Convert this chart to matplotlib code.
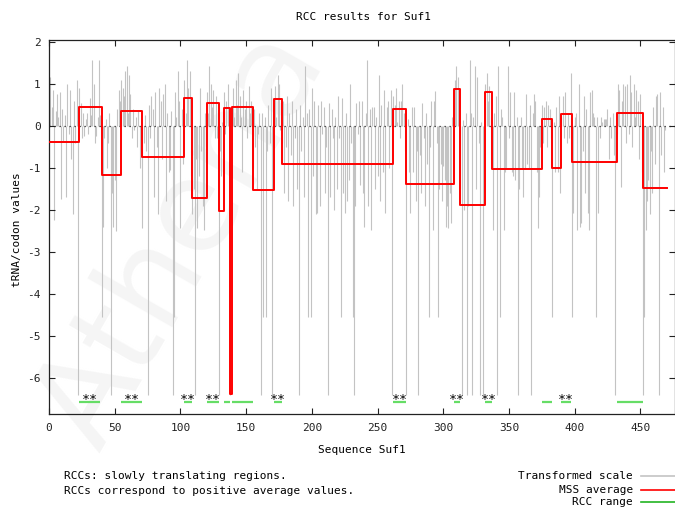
import matplotlib
matplotlib.use("Agg")
import matplotlib.pyplot as plt
from matplotlib.lines import Line2D
import numpy as np

plt.rcParams['font.family'] = ['DejaVu Sans Mono']

# Transformed tRNA/codon scale, one value per codon (codons 1..469)
codon_values = [
    # 1-22
    1.15, 0.45, 0.85, -2.25, 0.35, 0.75, 0.2, 0.8, -1.75, 0.4, -0.35, 0.25, -1.7, 1.0, -0.2,
    0.85, -0.8, -2.1, 0.6, -0.4, 1.1, -6.39,
    # 23-39
    0.9, 0.55, -0.3, 0.3, -0.25, 0.15, 0.3, -0.2, 0.65, 0.25, 1.57, 1.0, -0.4, -0.25, 0.2, 1.57, 0.25,
    # 40-54
    -4.54, -2.4, -0.3, 0.15, -1.0, -0.4, 0.3, -6.39, -1.6, -2.4, -1.3, -2.5, 0.4, 0.85, 0.6,
    # 55-70
    1.1, 0.9, 0.7, 1.3, 1.41, 0.3, 1.2, 0.75, -0.3, 0.4, -0.1, 0.2, -0.5, 0.35, -1.0, -0.6,
    # 71-102
    -2.44, -0.4, 0.25, -0.6, -6.39, 0.5, -0.3, 0.7, 0.4, -1.7, 0.8, -0.5, -2.1, 0.9, 0.6, -0.8,
    0.75, 1.0, -1.8, 0.3, -1.1, -1.05, 0.35, -6.39, -4.54, 0.8, 0.2, 1.3, 0.6, -2.44, 0.4, -0.9,
    # 103-108
    1.1, 0.3, 1.57, 0.9, 1.3, -1.2,
    # 109-119
    -2.1, -1.5, -6.39, -0.8, -2.44, -1.2, 0.9, -0.6, -1.9, -2.48, 0.3,
    # 120-128
    0.8, 0.3, 1.41, 1.0, 0.45, 0.85, -0.3, 0.7, -0.3,
    # 129-132
    -6.39, -0.6, -1.2, 0.1,
    # 133-137
    0.8, -0.2, 0.6, 1.0, -0.1,
    # 138
    -6.39,
    # 139-154
    0.3, 0.9, 0.2, 1.1, 0.5, 1.25, 0.7, 0.2, -1.1, 0.85, 0.4, 0.6, -0.3, 0.95, 0.3, 0.6,
    # 155-170
    -1.0, 0.4, -0.5, -1.5, -0.2, 0.3, -6.39, 0.3, -4.54, 0.2, -4.54, -0.6, 0.5, -0.4, 0.9, -6.39,
    # 171-176
    0.5, 0.95, 0.2, 1.2, 1.0, -0.1,
    # 177-261
    -0.4, 0.6, -1.6, -0.5, 0.7, -1.8, 0.3, -0.7, 0.6, -1.9, -0.3, 0.4, -1.5, -6.39, 0.5, -0.6,
    0.2, -1.7, 1.41, 0.3, -4.54, 0.4, -4.54, 0.9, -1.2, 0.6, -2.1, -2.08, 0.5, -1.9, 0.6, -0.2,
    0.45, -1.6, -0.5, -6.39, 0.55, -1.7, 0.4, -0.3, -2.0, 0.2, -1.5, 0.7, -0.3, -4.54, 0.65,
    -1.6, -2.08, 0.3, -1.8, -1.3, 1.0, -0.4, -4.54, -6.39, -1.9, 0.55, -0.2, 0.6, -1.4, 0.6,
    -1.6, -2.4, 0.3, 1.57, -1.9, 0.4, -2.48, 0.45, 0.45, -1.5, 0.2, -1.2, 1.21, -1.8, 0.5,
    -1.1, 0.85, -2.08, 0.45, 0.6, -1.0, 0.85, -6.39,
    # 262-271
    0.7, 0.5, 0.9, 0.1, 0.6, -0.3, 0.6, 1.0, 0.3, -0.6,
    # 272-307
    -6.39, 0.15, -1.1, -2.08, 0.45, -1.1, 0.45, -1.8, -0.6, -6.39, -0.7, -1.6, 0.55, -0.3,
    -1.9, 0.3, -0.9, -4.54, -0.5, 0.6, -2.48, 0.6, 0.82, -0.4, -4.54, -1.5, -0.9, -1.8, -0.95,
    -1.3, -2.4, -1.9, -2.44, -1.6, -2.3, 0.2,
    # 308-312
    0.5, 1.1, 1.41, 1.15, 0.2,
    # 313-331
    -1.5, -6.39, 0.14, -2.0, 0.3, -6.39, -1.9, 1.57, 0.3, -6.39, 0.2, 1.41, -1.5, 1.15, -0.4,
    -6.39, 0.1, -6.39, -1.6,
    # 332-336
    1.0, 1.25, 0.6, 0.95, 0.2,
    # 337-374
    -0.9, -2.48, 0.3, 0.7, -6.39, 1.41, -4.54, 0.4, 0.2, -2.48, -1.1, -1.0, 1.41, -0.3, 0.8,
    -1.1, -1.2, 0.8, -1.3, 0.2, -6.39, -1.5, 0.2, -1.0, -1.7, -1.0, 0.75, -0.9, -1.0, 0.5,
    -6.39, 0.3, 0.75, 0.6, -1.1, -2.44, -1.7, -0.5,
    # 375-382
    0.5, -0.4, 0.45, 0.6, -0.5, 0.5, 0.4, -0.3,
    # 383-389
    -4.54, 0.1, -1.1, 0.45, -1.1, 0.7, -1.6,
    # 390-397
    0.2, 0.7, -0.3, 0.8, -0.4, 0.3, -0.3, 1.25,
    # 398-431
    -4.54, -2.08, 0.2, 0.3, -2.48, 1.0, -2.4, -2.3, -0.6, 0.7, -1.6, 0.4, -2.08, -2.48, 0.8,
    0.85, 0.3, 0.2, -4.54, 0.2, -2.08, -0.3, 0.2, 0.1, 0.15, 0.15, 0.15, 0.4, -0.8, 0.2, -0.3,
    0.3, -0.7, -6.39,
    # 432-451
    -0.2, 1.0, 0.85, -1.45, 0.6, 1.0, 0.95, -0.4, 1.0, -0.2, 1.2, 0.8, -0.5, 1.0, 0.2, 0.85,
    0.6, -0.8, 0.75, -1.1,
    # 452-469
    -6.39, -4.54, -2.48, -1.8, -1.3, -2.1, -0.6, -1.6, 0.45, -0.9, 0.7, 0.75, -6.39, 0.8, -0.7,
    0.45, -1.1, -0.1,
]

# MSS (moving segment) averages: segment start codon and mean value
mss_start = [0, 23, 40, 55, 71, 103, 109, 120, 129, 133, 138, 139, 155, 171, 177, 262,
             272, 308, 313, 332, 337, 375, 383, 390, 398, 432, 452]
mss_value = [-0.39, 0.44, -1.18, 0.36, -0.74, 0.67, -1.72, 0.54, -2.03, 0.42, -6.38, 0.44,
             -1.52, 0.64, -0.90, 0.40, -1.39, 0.87, -1.88, 0.80, -1.03, 0.16, -1.01, 0.28,
             -0.87, 0.31, -1.49]
mss_end = 470

# RCC ranges (positive-average segments); flagged ranges get "**"
rcc_start = [23, 55, 103, 120, 133, 139, 171, 262, 308, 332, 375, 390, 432]
rcc_end = [39, 71, 109, 129, 138, 155, 177, 272, 313, 337, 383, 397, 452]
rcc_flag = [1, 1, 1, 1, 0, 0, 1, 1, 1, 1, 0, 1, 0]
rcc_level = -6.56

W, H = 675, 508
fig = plt.figure(figsize=(W / 100, H / 100), dpi=100)

# faint background watermark
fig.text(0.27, 0.53, 'Athena', rotation=60, fontsize=92, color='#f5f5f5',
         family='DejaVu Sans', ha='center', va='center', zorder=-5)

ax = fig.add_axes([49 / W, 1 - 414.3 / H, 625.5 / W, (414.3 - 40) / H])
ax.patch.set_alpha(0)

positions = np.arange(1, len(codon_values) + 1)
ax.vlines(positions, 0, codon_values, colors='#c3c3c3', lw=0.8, zorder=1)
ax.axhline(0, color='#222222', lw=0.9, ls=(0, (1, 3)), zorder=2)

xs = mss_start + [mss_end]
ys = mss_value + [mss_value[-1]]
ax.step(xs, ys, where='post', color='#ff0000', lw=1.4, zorder=3)

ax.hlines([rcc_level] * len(rcc_start), rcc_start, rcc_end, colors='#66dd66', lw=1.6, zorder=3)
for s, e, f in zip(rcc_start, rcc_end, rcc_flag):
    if f:
        ax.text((s + e) / 2, rcc_level + 0.05, '**', ha='center', va='center',
                fontsize=9.5, color='black', zorder=4)

ax.set_xlim(0, 476)
ax.set_ylim(-6.86, 2.04)
ax.set_xticks(range(0, 451, 50))
ax.set_yticks(range(-6, 3))
ax.set_yticklabels([str(v) for v in range(-6, 3)])
ax.tick_params(direction='in', top=True, right=True, length=4, width=0.8,
               labelsize=8, colors='#222222')
ax.tick_params(axis='x', pad=6)
ax.tick_params(axis='y', pad=6)
for sp in ax.spines.values():
    sp.set_linewidth(0.9)
    sp.set_color('#222222')

fig.text(364 / W, 1 - 17 / H, 'RCC results for Suf1', ha='center', va='center', fontsize=8)
fig.text(362 / W, 1 - 450 / H, 'Sequence Suf1', ha='center', va='center', fontsize=8)
fig.text(17 / W, 1 - 230 / H, 'tRNA/codon values', ha='center', va='center',
         rotation=90, fontsize=8)

fig.text(64 / W, 1 - 476 / H, 'RCCs: slowly translating regions.', ha='left',
         va='center', fontsize=8)
fig.text(64 / W, 1 - 491 / H, 'RCCs correspond to positive average values.', ha='left',
         va='center', fontsize=8)

legend_rows = [(476, 'Transformed scale', '#c3c3c3'),
               (490, 'MSS average', '#ff0000'),
               (502, 'RCC range', '#22b422')]
for yp, label, col in legend_rows:
    fig.text(633 / W, 1 - yp / H, label, ha='right', va='center', fontsize=8)
    fig.add_artist(Line2D([641 / W, 1.0], [1 - yp / H] * 2, color=col, lw=1.2))

fig.savefig('out.png', dpi=100)
